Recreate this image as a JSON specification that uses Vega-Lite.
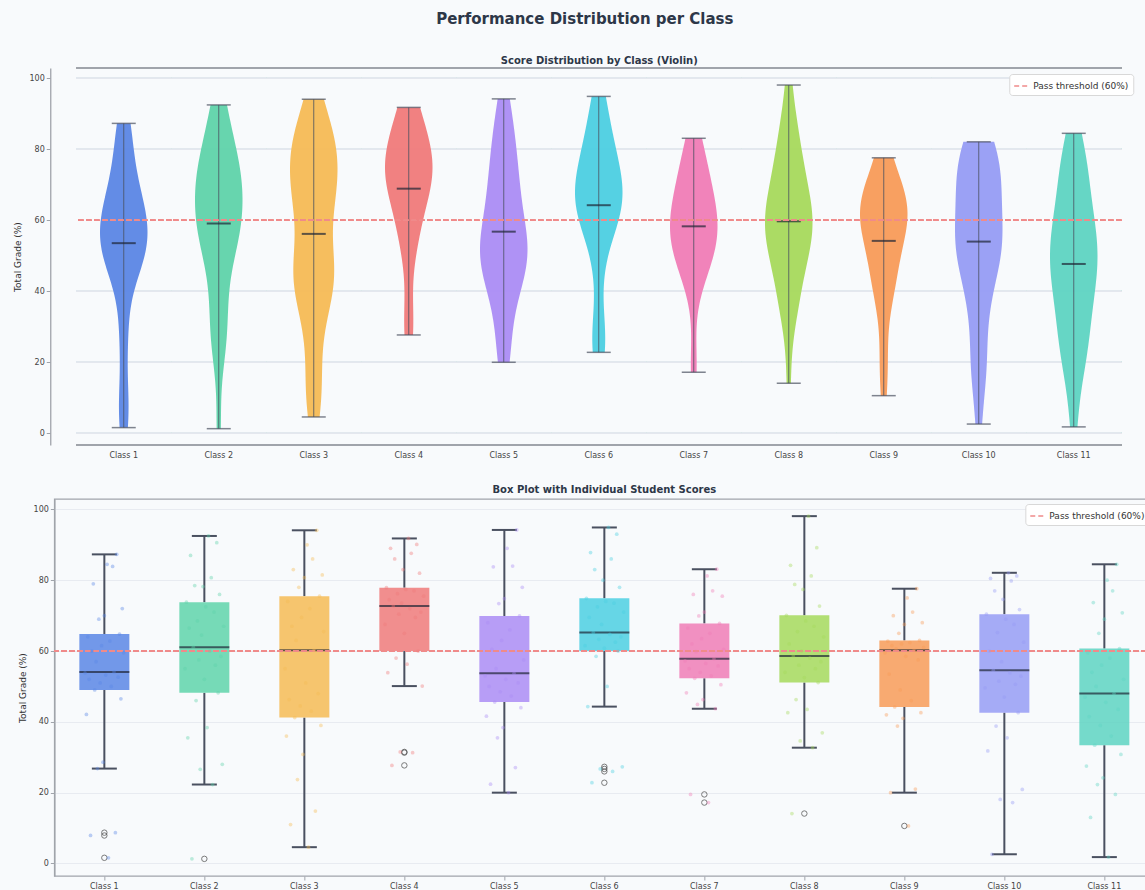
{
  "$schema": "https://vega.github.io/schema/vega-lite/v6.json",
  "background": "#f8fafc",
  "padding": {"left": 13, "top": 12, "right": 0, "bottom": 0},
  "title": {"text": "Performance Distribution per Class", "fontSize": 15, "fontWeight": "bold", "color": "#2d3748", "anchor": "middle", "offset": 29},
  "datasets": {
    "scores": [
      {"c":"Class 1","g":1.6,"s":17},{"c":"Class 1","g":7.9,"s":4},{"c":"Class 1","g":8.7,"s":22},{"c":"Class 1","g":26.8,"s":9},{"c":"Class 1","g":28.6,"s":13},{"c":"Class 1","g":42.1,"s":1},{"c":"Class 1","g":46.5,"s":26},{"c":"Class 1","g":49.0,"s":7},{"c":"Class 1","g":50.0,"s":19},{"c":"Class 1","g":51.0,"s":11},{"c":"Class 1","g":52.0,"s":3},{"c":"Class 1","g":52.6,"s":24},{"c":"Class 1","g":53.2,"s":15},{"c":"Class 1","g":53.8,"s":0},{"c":"Class 1","g":54.1,"s":21},{"c":"Class 1","g":57.0,"s":8},{"c":"Class 1","g":59.5,"s":28},{"c":"Class 1","g":60.0,"s":5},{"c":"Class 1","g":61.5,"s":12},{"c":"Class 1","g":62.8,"s":18},{"c":"Class 1","g":64.0,"s":2},{"c":"Class 1","g":64.8,"s":25},{"c":"Class 1","g":69.0,"s":10},{"c":"Class 1","g":70.0,"s":14},{"c":"Class 1","g":72.0,"s":27},{"c":"Class 1","g":79.0,"s":6},{"c":"Class 1","g":83.9,"s":20},{"c":"Class 1","g":84.5,"s":16},{"c":"Class 1","g":87.3,"s":23},
      {"c":"Class 2","g":1.3,"s":5},{"c":"Class 2","g":22.3,"s":20},{"c":"Class 2","g":26.6,"s":11},{"c":"Class 2","g":28.0,"s":27},{"c":"Class 2","g":35.5,"s":2},{"c":"Class 2","g":38.4,"s":16},{"c":"Class 2","g":46.0,"s":8},{"c":"Class 2","g":48.2,"s":24},{"c":"Class 2","g":52.0,"s":14},{"c":"Class 2","g":55.0,"s":0},{"c":"Class 2","g":56.0,"s":22},{"c":"Class 2","g":57.5,"s":10},{"c":"Class 2","g":58.5,"s":26},{"c":"Class 2","g":60.0,"s":18},{"c":"Class 2","g":61.1,"s":6},{"c":"Class 2","g":64.5,"s":12},{"c":"Class 2","g":66.5,"s":3},{"c":"Class 2","g":67.0,"s":28},{"c":"Class 2","g":68.5,"s":9},{"c":"Class 2","g":71.0,"s":21},{"c":"Class 2","g":72.5,"s":15},{"c":"Class 2","g":73.8,"s":1},{"c":"Class 2","g":76.0,"s":25},{"c":"Class 2","g":78.2,"s":13},{"c":"Class 2","g":78.5,"s":7},{"c":"Class 2","g":80.7,"s":19},{"c":"Class 2","g":87.0,"s":4},{"c":"Class 2","g":90.6,"s":23},{"c":"Class 2","g":92.5,"s":17},
      {"c":"Class 3","g":4.6,"s":17},{"c":"Class 3","g":11.0,"s":4},{"c":"Class 3","g":14.8,"s":22},{"c":"Class 3","g":23.7,"s":9},{"c":"Class 3","g":30.8,"s":13},{"c":"Class 3","g":36.0,"s":1},{"c":"Class 3","g":39.0,"s":26},{"c":"Class 3","g":41.2,"s":7},{"c":"Class 3","g":43.0,"s":19},{"c":"Class 3","g":44.5,"s":11},{"c":"Class 3","g":46.3,"s":3},{"c":"Class 3","g":48.0,"s":24},{"c":"Class 3","g":51.0,"s":15},{"c":"Class 3","g":55.0,"s":0},{"c":"Class 3","g":60.2,"s":21},{"c":"Class 3","g":63.0,"s":8},{"c":"Class 3","g":65.5,"s":28},{"c":"Class 3","g":67.0,"s":5},{"c":"Class 3","g":69.5,"s":12},{"c":"Class 3","g":72.0,"s":18},{"c":"Class 3","g":74.0,"s":2},{"c":"Class 3","g":75.5,"s":25},{"c":"Class 3","g":78.0,"s":10},{"c":"Class 3","g":80.7,"s":14},{"c":"Class 3","g":81.5,"s":27},{"c":"Class 3","g":83.0,"s":6},{"c":"Class 3","g":86.0,"s":20},{"c":"Class 3","g":90.0,"s":16},{"c":"Class 3","g":94.1,"s":23},
      {"c":"Class 4","g":27.7,"s":5},{"c":"Class 4","g":31.3,"s":20},{"c":"Class 4","g":31.5,"s":11},{"c":"Class 4","g":50.1,"s":27},{"c":"Class 4","g":53.9,"s":2},{"c":"Class 4","g":56.3,"s":16},{"c":"Class 4","g":58.0,"s":8},{"c":"Class 4","g":60.0,"s":24},{"c":"Class 4","g":65.0,"s":14},{"c":"Class 4","g":67.5,"s":0},{"c":"Class 4","g":69.5,"s":22},{"c":"Class 4","g":70.4,"s":10},{"c":"Class 4","g":71.0,"s":26},{"c":"Class 4","g":72.0,"s":18},{"c":"Class 4","g":72.7,"s":6},{"c":"Class 4","g":73.5,"s":12},{"c":"Class 4","g":74.5,"s":3},{"c":"Class 4","g":75.5,"s":28},{"c":"Class 4","g":76.2,"s":9},{"c":"Class 4","g":77.0,"s":21},{"c":"Class 4","g":77.4,"s":15},{"c":"Class 4","g":77.9,"s":1},{"c":"Class 4","g":82.0,"s":25},{"c":"Class 4","g":83.0,"s":13},{"c":"Class 4","g":86.0,"s":7},{"c":"Class 4","g":87.6,"s":19},{"c":"Class 4","g":89.0,"s":4},{"c":"Class 4","g":90.1,"s":23},{"c":"Class 4","g":91.8,"s":17},
      {"c":"Class 5","g":20.0,"s":17},{"c":"Class 5","g":22.4,"s":4},{"c":"Class 5","g":27.1,"s":22},{"c":"Class 5","g":35.5,"s":9},{"c":"Class 5","g":38.4,"s":13},{"c":"Class 5","g":41.6,"s":1},{"c":"Class 5","g":44.0,"s":26},{"c":"Class 5","g":45.6,"s":7},{"c":"Class 5","g":47.3,"s":19},{"c":"Class 5","g":48.5,"s":11},{"c":"Class 5","g":50.0,"s":3},{"c":"Class 5","g":51.0,"s":24},{"c":"Class 5","g":52.0,"s":15},{"c":"Class 5","g":53.0,"s":0},{"c":"Class 5","g":53.7,"s":21},{"c":"Class 5","g":55.0,"s":8},{"c":"Class 5","g":57.5,"s":28},{"c":"Class 5","g":60.5,"s":5},{"c":"Class 5","g":63.0,"s":12},{"c":"Class 5","g":66.0,"s":18},{"c":"Class 5","g":68.0,"s":2},{"c":"Class 5","g":69.9,"s":25},{"c":"Class 5","g":73.4,"s":10},{"c":"Class 5","g":74.8,"s":14},{"c":"Class 5","g":78.0,"s":27},{"c":"Class 5","g":83.8,"s":6},{"c":"Class 5","g":84.0,"s":20},{"c":"Class 5","g":89.0,"s":16},{"c":"Class 5","g":94.2,"s":23},
      {"c":"Class 6","g":22.8,"s":5},{"c":"Class 6","g":26.0,"s":20},{"c":"Class 6","g":26.7,"s":11},{"c":"Class 6","g":27.3,"s":27},{"c":"Class 6","g":44.3,"s":2},{"c":"Class 6","g":50.0,"s":16},{"c":"Class 6","g":58.5,"s":8},{"c":"Class 6","g":60.0,"s":24},{"c":"Class 6","g":60.8,"s":14},{"c":"Class 6","g":61.5,"s":0},{"c":"Class 6","g":62.5,"s":22},{"c":"Class 6","g":63.3,"s":10},{"c":"Class 6","g":64.0,"s":26},{"c":"Class 6","g":64.7,"s":18},{"c":"Class 6","g":65.2,"s":6},{"c":"Class 6","g":67.5,"s":12},{"c":"Class 6","g":69.5,"s":3},{"c":"Class 6","g":71.0,"s":28},{"c":"Class 6","g":72.5,"s":9},{"c":"Class 6","g":73.5,"s":21},{"c":"Class 6","g":74.0,"s":15},{"c":"Class 6","g":74.9,"s":1},{"c":"Class 6","g":78.0,"s":25},{"c":"Class 6","g":80.0,"s":13},{"c":"Class 6","g":83.0,"s":7},{"c":"Class 6","g":86.0,"s":19},{"c":"Class 6","g":87.8,"s":4},{"c":"Class 6","g":93.0,"s":23},{"c":"Class 6","g":94.9,"s":17},
      {"c":"Class 7","g":17.2,"s":17},{"c":"Class 7","g":19.5,"s":4},{"c":"Class 7","g":43.7,"s":22},{"c":"Class 7","g":44.9,"s":9},{"c":"Class 7","g":46.3,"s":13},{"c":"Class 7","g":48.2,"s":1},{"c":"Class 7","g":50.5,"s":26},{"c":"Class 7","g":52.3,"s":7},{"c":"Class 7","g":53.0,"s":19},{"c":"Class 7","g":54.0,"s":11},{"c":"Class 7","g":55.0,"s":3},{"c":"Class 7","g":55.8,"s":24},{"c":"Class 7","g":56.5,"s":15},{"c":"Class 7","g":57.2,"s":0},{"c":"Class 7","g":57.8,"s":21},{"c":"Class 7","g":59.8,"s":8},{"c":"Class 7","g":60.5,"s":28},{"c":"Class 7","g":62.0,"s":5},{"c":"Class 7","g":63.5,"s":12},{"c":"Class 7","g":65.0,"s":18},{"c":"Class 7","g":66.5,"s":2},{"c":"Class 7","g":67.8,"s":25},{"c":"Class 7","g":69.9,"s":10},{"c":"Class 7","g":71.0,"s":14},{"c":"Class 7","g":75.5,"s":27},{"c":"Class 7","g":76.0,"s":6},{"c":"Class 7","g":77.0,"s":20},{"c":"Class 7","g":81.2,"s":16},{"c":"Class 7","g":83.1,"s":23},
      {"c":"Class 8","g":14.1,"s":5},{"c":"Class 8","g":32.7,"s":20},{"c":"Class 8","g":34.6,"s":11},{"c":"Class 8","g":36.9,"s":27},{"c":"Class 8","g":42.6,"s":2},{"c":"Class 8","g":43.5,"s":16},{"c":"Class 8","g":46.3,"s":8},{"c":"Class 8","g":51.1,"s":24},{"c":"Class 8","g":52.5,"s":14},{"c":"Class 8","g":54.0,"s":0},{"c":"Class 8","g":55.0,"s":22},{"c":"Class 8","g":56.0,"s":10},{"c":"Class 8","g":57.0,"s":26},{"c":"Class 8","g":58.0,"s":18},{"c":"Class 8","g":58.6,"s":6},{"c":"Class 8","g":60.0,"s":12},{"c":"Class 8","g":62.0,"s":3},{"c":"Class 8","g":64.0,"s":28},{"c":"Class 8","g":65.5,"s":9},{"c":"Class 8","g":67.0,"s":21},{"c":"Class 8","g":68.5,"s":15},{"c":"Class 8","g":70.1,"s":1},{"c":"Class 8","g":72.7,"s":25},{"c":"Class 8","g":77.4,"s":13},{"c":"Class 8","g":78.8,"s":7},{"c":"Class 8","g":81.2,"s":19},{"c":"Class 8","g":84.2,"s":4},{"c":"Class 8","g":89.2,"s":23},{"c":"Class 8","g":98.1,"s":17},
      {"c":"Class 9","g":10.6,"s":17},{"c":"Class 9","g":20.0,"s":4},{"c":"Class 9","g":21.0,"s":22},{"c":"Class 9","g":38.8,"s":9},{"c":"Class 9","g":41.0,"s":13},{"c":"Class 9","g":42.0,"s":1},{"c":"Class 9","g":42.6,"s":26},{"c":"Class 9","g":44.2,"s":7},{"c":"Class 9","g":46.0,"s":19},{"c":"Class 9","g":49.0,"s":11},{"c":"Class 9","g":53.5,"s":3},{"c":"Class 9","g":57.5,"s":24},{"c":"Class 9","g":58.5,"s":15},{"c":"Class 9","g":59.5,"s":0},{"c":"Class 9","g":60.2,"s":21},{"c":"Class 9","g":60.6,"s":8},{"c":"Class 9","g":61.0,"s":28},{"c":"Class 9","g":61.5,"s":5},{"c":"Class 9","g":62.0,"s":12},{"c":"Class 9","g":62.4,"s":18},{"c":"Class 9","g":62.8,"s":2},{"c":"Class 9","g":63.0,"s":25},{"c":"Class 9","g":65.0,"s":10},{"c":"Class 9","g":67.5,"s":14},{"c":"Class 9","g":68.0,"s":27},{"c":"Class 9","g":70.0,"s":6},{"c":"Class 9","g":71.0,"s":20},{"c":"Class 9","g":75.0,"s":16},{"c":"Class 9","g":77.6,"s":23},
      {"c":"Class 10","g":2.6,"s":5},{"c":"Class 10","g":17.2,"s":20},{"c":"Class 10","g":18.1,"s":11},{"c":"Class 10","g":20.9,"s":27},{"c":"Class 10","g":31.8,"s":2},{"c":"Class 10","g":35.5,"s":16},{"c":"Class 10","g":38.8,"s":8},{"c":"Class 10","g":42.6,"s":24},{"c":"Class 10","g":47.0,"s":14},{"c":"Class 10","g":49.6,"s":0},{"c":"Class 10","g":50.6,"s":22},{"c":"Class 10","g":51.5,"s":10},{"c":"Class 10","g":52.9,"s":26},{"c":"Class 10","g":53.8,"s":18},{"c":"Class 10","g":54.6,"s":6},{"c":"Class 10","g":57.0,"s":12},{"c":"Class 10","g":60.0,"s":3},{"c":"Class 10","g":62.5,"s":28},{"c":"Class 10","g":65.2,"s":9},{"c":"Class 10","g":67.5,"s":21},{"c":"Class 10","g":69.0,"s":15},{"c":"Class 10","g":70.4,"s":1},{"c":"Class 10","g":71.7,"s":25},{"c":"Class 10","g":74.6,"s":13},{"c":"Class 10","g":77.0,"s":7},{"c":"Class 10","g":79.8,"s":19},{"c":"Class 10","g":80.5,"s":4},{"c":"Class 10","g":81.2,"s":23},{"c":"Class 10","g":82.1,"s":17},
      {"c":"Class 11","g":1.8,"s":17},{"c":"Class 11","g":13.0,"s":4},{"c":"Class 11","g":19.5,"s":22},{"c":"Class 11","g":22.3,"s":9},{"c":"Class 11","g":24.2,"s":13},{"c":"Class 11","g":27.5,"s":1},{"c":"Class 11","g":30.8,"s":26},{"c":"Class 11","g":33.4,"s":7},{"c":"Class 11","g":36.0,"s":19},{"c":"Class 11","g":39.0,"s":11},{"c":"Class 11","g":41.5,"s":3},{"c":"Class 11","g":43.5,"s":24},{"c":"Class 11","g":45.5,"s":15},{"c":"Class 11","g":47.0,"s":0},{"c":"Class 11","g":48.0,"s":21},{"c":"Class 11","g":50.0,"s":8},{"c":"Class 11","g":52.0,"s":28},{"c":"Class 11","g":54.0,"s":5},{"c":"Class 11","g":56.0,"s":12},{"c":"Class 11","g":58.0,"s":18},{"c":"Class 11","g":59.5,"s":2},{"c":"Class 11","g":60.7,"s":25},{"c":"Class 11","g":65.0,"s":10},{"c":"Class 11","g":69.0,"s":14},{"c":"Class 11","g":70.8,"s":27},{"c":"Class 11","g":73.7,"s":6},{"c":"Class 11","g":77.0,"s":20},{"c":"Class 11","g":80.0,"s":16},{"c":"Class 11","g":84.5,"s":23}
    ]
  },
  "concat": [
    {
      "data": {"name": "scores"},
      "facet": {"column": {"field": "c", "type": "nominal", "title": "Score Distribution by Class (Violin)",
        "sort": ["Class 1","Class 2","Class 3","Class 4","Class 5","Class 6","Class 7","Class 8","Class 9","Class 10","Class 11"],
        "header": {"labelOrient": "bottom", "titleOrient": "top", "labelFontSize": 8, "labelColor": "#444", "labelPadding": 7,
          "titleFontSize": 10, "titleFontWeight": "bold", "titleColor": "#2d3748", "titlePadding": -8}}},
      "spacing": 0,
      "bounds": "flush",
      "resolve": {"scale": {"x": "independent"}},
      "spec": {
        "width": 95,
        "height": 377,
        "view": {"stroke": null},
        "layer": [
          {"mark": {"type": "rule", "color": "#e3e7ee", "strokeWidth": 0.8}, "encoding": {"y": {"datum": 0, "type": "quantitative"}}},
          {"mark": {"type": "rule", "color": "#e3e7ee", "strokeWidth": 0.8}, "encoding": {"y": {"datum": 20, "type": "quantitative"}}},
          {"mark": {"type": "rule", "color": "#e3e7ee", "strokeWidth": 0.8}, "encoding": {"y": {"datum": 40, "type": "quantitative"}}},
          {"mark": {"type": "rule", "color": "#e3e7ee", "strokeWidth": 0.8}, "encoding": {"y": {"datum": 80, "type": "quantitative"}}},
          {"mark": {"type": "rule", "color": "#e3e7ee", "strokeWidth": 0.8}, "encoding": {"y": {"datum": 100, "type": "quantitative"}}},
          {
            "transform": [{"density": "g", "groupby": ["c"], "bandwidth": 9, "steps": 120, "as": ["g", "density"]}],
            "mark": {"type": "area", "orient": "horizontal", "fillOpacity": 0.95},
            "encoding": {
              "y": {"field": "g", "type": "quantitative", "title": "Total Grade (%)",
                "scale": {"domain": [-3.3, 102.9], "nice": false, "zero": false},
                "axis": {"values": [0, 20, 40, 60, 80, 100], "offset": 26, "grid": false, "titlePadding": 6, "labelPadding": 2}},
              "x": {"field": "density", "type": "quantitative", "stack": "center", "impute": null, "axis": null,
                "scale": {"nice": false, "zero": false, "range": [23.75, 71.25]}},
              "color": {"field": "c", "type": "nominal", "legend": null,
                "scale": {"domain": ["Class 1","Class 2","Class 3","Class 4","Class 5","Class 6","Class 7","Class 8","Class 9","Class 10","Class 11"],
                  "range": ["#5b86e5","#5fd3aa","#f6bb55","#f07a7a","#ab8cf4","#4ccfe2","#f07cb6","#a6d95c","#f89b58","#969cf4","#5ed4c2"]}}
            }
          },
          {
            "transform": [{"aggregate": [{"op": "min", "field": "g", "as": "lo"}, {"op": "max", "field": "g", "as": "hi"}, {"op": "mean", "field": "g", "as": "avg"}], "groupby": ["c"]}],
            "layer": [
              {"mark": {"type": "rule", "color": "#4a5060", "strokeWidth": 1, "opacity": 0.8},
               "encoding": {"y": {"field": "lo", "type": "quantitative", "title": "Total Grade (%)"}, "y2": {"field": "hi"}}},
              {"mark": {"type": "tick", "orient": "horizontal", "color": "#4a5060", "size": 24, "thickness": 1.5},
               "encoding": {"y": {"field": "lo", "type": "quantitative", "title": "Total Grade (%)"}}},
              {"mark": {"type": "tick", "orient": "horizontal", "color": "#4a5060", "size": 24, "thickness": 1.5},
               "encoding": {"y": {"field": "hi", "type": "quantitative", "title": "Total Grade (%)"}}},
              {"mark": {"type": "tick", "orient": "horizontal", "color": "#1e2535", "size": 24, "thickness": 2},
               "encoding": {"y": {"field": "avg", "type": "quantitative", "title": "Total Grade (%)"}}}
            ]
          },
          {
            "mark": {"type": "rule", "color": "#f08a8a", "strokeWidth": 1.3},
            "encoding": {
              "y": {"datum": 60, "type": "quantitative"},
              "strokeDash": {"datum": "Pass threshold (60%)", "type": "nominal", "scale": {"range": [[5, 3]]},
                "legend": {"title": null, "orient": "none", "legendX": 933, "legendY": 6}}
            }
          },
          {"mark": {"type": "rule", "color": "#a0a4ab", "strokeWidth": 1.3}, "encoding": {"y": {"datum": 102.9, "type": "quantitative"}}},
          {"mark": {"type": "rule", "color": "#a0a4ab", "strokeWidth": 1.3}, "encoding": {"y": {"datum": -3.3, "type": "quantitative"}}}
        ]
      }
    },
    {
      "title": {"text": "Box Plot with Individual Student Scores", "fontSize": 10, "fontWeight": "bold", "color": "#2d3748", "offset": 4, "anchor": "middle"},
      "data": {"name": "scores"},
      "width": 1100,
      "height": 377,
      "view": {"stroke": "#a0a4ab", "strokeWidth": 1.3},
      "layer": [
        {
          "mark": {"type": "boxplot", "extent": 1.5, "size": 50,
            "box": {"opacity": 0.85},
            "median": {"color": "#1e2535", "thickness": 2},
            "rule": {"color": "#4a5060", "strokeWidth": 2},
            "ticks": {"color": "#4a5060", "size": 25, "thickness": 2},
            "outliers": {"color": "#444", "stroke": "#444", "filled": false, "size": 30, "strokeWidth": 1}},
          "encoding": {
            "x": {"field": "c", "type": "nominal",
              "sort": ["Class 1","Class 2","Class 3","Class 4","Class 5","Class 6","Class 7","Class 8","Class 9","Class 10","Class 11"],
              "scale": {"paddingInner": 0, "paddingOuter": 0},
              "axis": {"title": null, "labelAngle": 0, "labelFontSize": 8, "labelColor": "#444", "domain": false, "tickSize": 4}},
            "y": {"field": "g", "type": "quantitative", "title": "Total Grade (%)",
              "scale": {"domain": [-3.54, 102.94], "nice": false, "zero": false},
              "axis": {"values": [0, 20, 40, 60, 80, 100], "grid": true, "titlePadding": 6, "labelPadding": 2}},
            "color": {"field": "c", "type": "nominal", "legend": null}
          }
        },
        {
          "mark": {"type": "rule", "color": "#f08a8a", "strokeWidth": 1.3},
          "encoding": {
            "y": {"datum": 60, "type": "quantitative"},
            "strokeDash": {"datum": "Pass threshold (60%)", "type": "nominal", "scale": {"range": [[5, 3]]}, "legend": {"title": null}}
          }
        },
        {
          "mark": {"type": "circle", "size": 14, "opacity": 0.4},
          "encoding": {
            "x": {"field": "c", "type": "nominal",
              "sort": ["Class 1","Class 2","Class 3","Class 4","Class 5","Class 6","Class 7","Class 8","Class 9","Class 10","Class 11"]},
            "y": {"field": "g", "type": "quantitative", "title": "Total Grade (%)"},
            "xOffset": {"field": "s", "type": "nominal", "scale": {"range": [30, 70]}},
            "color": {"field": "c", "type": "nominal", "legend": null}
          }
        }
      ]
    }
  ],
  "columns": 1,
  "center": true,
  "spacing": 24,
  "resolve": {"scale": {"strokeDash": "independent"}, "legend": {"strokeDash": "independent"}},
  "config": {
    "font": "DejaVu Sans",
    "view": {"stroke": null},
    "axis": {"labelFontSize": 8, "labelColor": "#444", "titleFontSize": 9, "titleFontWeight": "normal", "titleColor": "#333",
      "domainColor": "#a0a4ab", "domainWidth": 1.3, "tickColor": "#a0a4ab", "tickSize": 4, "gridColor": "#e3e7ee", "gridWidth": 0.8},
    "legend": {"orient": "top-right", "labelFontSize": 9, "labelColor": "#333", "symbolType": "stroke", "symbolStrokeWidth": 1.3,
      "symbolSize": 200, "symbolStrokeColor": "#f08a8a", "fillColor": "#ffffff", "strokeColor": "#d8d8d8", "padding": 4, "cornerRadius": 3, "offset": 5},
    "header": {"labelFont": "DejaVu Sans", "titleFont": "DejaVu Sans"}
  }
}
